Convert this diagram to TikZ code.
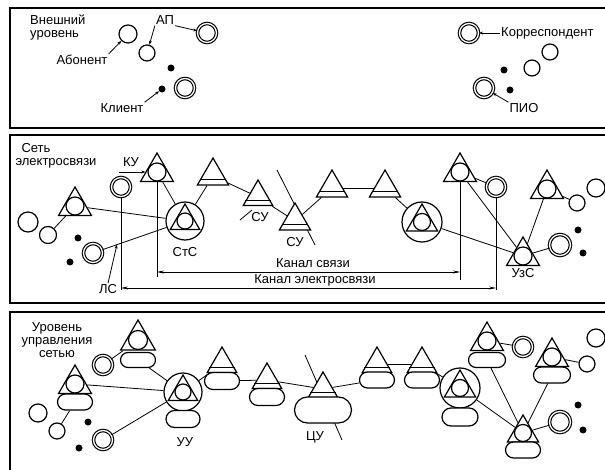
\documentclass[tikz,border=0pt]{standalone}
\usepackage{fontspec}
\setmainfont{Liberation Sans}
\usetikzlibrary{calc,shapes.geometric,shapes.misc,arrows.meta}

% line across a triangle just above its base
\newcommand{\band}[1]{%
  \draw[line width=1.2pt] ($(#1.corner 1)!0.8!(#1.corner 2)$) -- ($(#1.corner 1)!0.8!(#1.corner 3)$);}

\begin{document}
\begin{tikzpicture}[x=1pt,y=-1pt,
  tri/.style={regular polygon,regular polygon sides=3,draw,fill=white,inner sep=0pt,line width=1.2pt},
  hole/.style={circle,draw,fill=white,inner sep=0pt,line width=1.2pt},
  big/.style={circle,draw,fill=white,inner sep=0pt,line width=1.2pt},
  ring/.style={circle,draw,double,double distance=1.3pt,line width=1.15pt,fill=white,inner sep=0pt,minimum size=19pt},
  dot/.style={circle,fill,inner sep=0pt,minimum size=7pt},
  pad/.style={rounded rectangle,draw,fill=white,inner sep=0pt,line width=1.2pt,minimum width=35pt,minimum height=16pt},
  lab/.style={font=\fontsize{13}{13}\selectfont,inner sep=1pt},
  link/.style={line width=0.8pt},
  lbl/.style={line width=0.8pt,-{Stealth[length=4pt,width=3pt]}},
  chan/.style={line width=0.6pt,{Stealth[length=7pt,width=3pt]}-{Stealth[length=7pt,width=3pt]}},
  frame/.style={line width=1.4pt}]

  \useasboundingbox (0,0) rectangle (605,470);

  % frames
  \draw[frame] (606,8) -- (10,8) -- (10,128) -- (606,128);
  \draw[frame] (606,135) -- (10,135) -- (10,303) -- (606,303);
  \draw[frame] (606,312) -- (10,312) -- (10,471);

  % top: external level
  \node[lab,anchor=west,align=left] (lVn) at (29,28) {Внешний\\уровень};
  \node[hole,minimum size=18pt] (ab1) at (128,34) {};
  \node[hole,minimum size=16pt] (ap1) at (147,53) {};
  \node[ring] (apd) at (207,33) {};
  \node[dot] (kd1) at (171,68) {};
  \node[dot] (kd2) at (162,89) {};
  \node[ring] (kl) at (185,88) {};
  \node[ring] (kor) at (469,33) {};
  \node[hole,minimum size=16pt] (kc1) at (550,52) {};
  \node[hole,minimum size=16pt] (kc2) at (532,68) {};
  \node[dot] (pd1) at (504,70) {};
  \node[dot] (pd2) at (510,90) {};
  \node[ring] (pio) at (484,88) {};

  \node[lab] (lAb) at (82,60) {Абонент};
  \node[lab] (lAP) at (165,20) {АП};
  \node[lab] (lKl) at (122,108) {Клиент};
  \node[lab,anchor=west] (lKor) at (500,33) {Корреспондент};
  \node[lab] (lPIO) at (524,108) {ПИО};

  \draw[lbl] (lAb.north east) -- (ab1);
  \draw[lbl] (lAP.south west) -- (ap1);
  \draw[lbl] (lAP.south east) -- (apd);
  \draw[lbl] (lKl.north east) -- (kd2);
  \draw[lbl] (lKor.west) -- (kor);
  \draw[lbl] (lPIO.north west) -- (pio);

  % middle: telecom network
  \node[lab] (lSet) at (36,148) {Сеть};
  \node[lab] (lEl) at (56,163) {электросвязи};

  \draw[link] (277,170) -- (315,245);
  \draw[link] (240,220) -- (252,210);

  \node[tri,minimum size=38pt] (kuT) at (157,172) {};
  \node[hole,minimum size=18pt] (kuC) at (kuT) {};
  \node[ring] (dcKU) at (121,187) {};
  \node[tri,minimum size=38pt] (lt) at (75,206) {};
  \node[hole,minimum size=18pt] (ltC) at (lt) {};
  \node[hole,minimum size=20pt] (c1) at (28,222) {};
  \node[hole,minimum size=17pt] (c2) at (48,235) {};
  \node[dot] (md1) at (78,238) {};
  \node[dot] (md2) at (70,262) {};
  \node[ring] (dcL) at (93,253) {};
  \node[big,minimum size=38pt] (stc) at (185,221) {};
  \node[tri,minimum size=34pt] (stcT) at (stc) {};
  \node[hole,minimum size=16pt] (stcC) at (stc) {};

  \node[tri,minimum size=36pt] (s1) at (213,176) {};
  \node[tri,minimum size=34pt] (s2) at (258,197) {};
  \node[tri,minimum size=36pt] (s3) at (295,221) {};
  \node[tri,minimum size=36pt] (s4) at (332,188) {};
  \node[tri,minimum size=36pt] (s5) at (385,188) {};

  \node[big,minimum size=40pt] (stc2) at (422,222) {};
  \node[tri,minimum size=36pt] (stc2T) at (stc2) {};
  \node[hole,minimum size=17pt] (stc2C) at (stc2) {};
  \node[tri,minimum size=38pt] (rt1) at (460,172) {};
  \node[hole,minimum size=18pt] (rt1C) at (rt1) {};
  \node[ring] (dcR) at (496,187) {};
  \node[tri,minimum size=38pt] (rt2) at (547,189) {};
  \node[hole,minimum size=18pt] (rt2C) at (rt2) {};
  \node[hole,minimum size=16pt] (cR1) at (577,203) {};
  \node[hole,minimum size=18pt] (cR2) at (596,188) {};
  \node[tri,minimum size=38pt] (uzs) at (523,256) {};
  \node[hole,minimum size=18pt] (uzsC) at (uzs) {};
  \node[ring,minimum size=21pt] (dcR2) at (560,245) {};
  \node[dot] (mr1) at (578,230) {};
  \node[dot] (mr2) at (583,253) {};

  \band{s1} \band{s2} \band{s3} \band{s4} \band{s5}

  \node[lab] (lKU) at (131,162) {КУ};
  \node[lab] (lStc) at (185,252) {СтС};
  \node[lab] (lLS) at (108,289) {ЛС};
  \node[lab] (lSU1) at (260,217) {СУ};
  \node[lab] (lSU2) at (295,242) {СУ};
  \node[lab] (lUzs) at (523,273) {УзС};

  \draw[link] (lt) -- (stc);
  \draw[link] (dcL) -- (stc);
  \draw[link] (kuT) -- (stc);
  \draw[link] (lt) -- (c2);
  \draw[link] (stc) -- (s1);
  \draw[link] (s1) -- (s2);
  \draw[link] (s2) -- (s3);
  \draw[link] (s3) -- (s4);
  \draw[link] (s4) -- (s5);
  \draw[link] (s5) -- (stc2);
  \draw[link] (stc2) -- (uzs);
  \draw[link] (rt1) -- (uzs);
  \draw[link] (rt2) -- (uzs);
  \draw[link] (rt1) -- (dcR);
  \draw[link] (rt2) -- (cR1);
  \draw[link] (uzs) -- (dcR2);

  \coordinate (kuA) at (119,172);
  \draw[lbl] (kuA) -- (kuT);
  \coordinate (lsP) at ($(dcL)!0.26!(stc)$);
  \draw[lbl] (lLS.north) -- (lsP);

  % channels
  \draw[link] (kuT.south) -- ++(0,95);
  \draw[link] (rt1.south) -- ++(0,98);
  \draw[link] (dcKU.south) -- ++(0,93);
  \draw[link] (dcR.south) -- ++(0,93);
  \coordinate (ks1) at (kuT.south |- 0,272);
  \coordinate (ks2) at (rt1.south |- 0,272);
  \coordinate (ke1) at (dcKU.south |- 0,288);
  \coordinate (ke2) at (dcR.south |- 0,288);
  \draw[chan] (ks1) -- (ks2);
  \draw[chan] (ke1) -- (ke2);
  \node[lab] (lKs) at (313,263) {Канал связи};
  \node[lab] (lKe) at (315,280) {Канал электросвязи};

  % bottom: network management level
  \node[lab,align=center] (lUpr) at (57,340) {Уровень\\управления\\сетью};

  \draw[link] (305,355) -- (342,440);

  \node[tri,minimum size=40pt] (bA) at (138,340) {};
  \node[hole,minimum size=19pt] (bAc) at (bA) {};
  \node[pad,minimum height=15pt] (bAp) at (138,360) {};
  \node[ring] (dcB1) at (103,365) {};
  \node[tri,minimum size=38pt] (bB) at (75,384) {};
  \node[hole,minimum size=18pt] (bBc) at (bB) {};
  \node[pad] (bBp) at (75,402) {};
  \node[hole,minimum size=18pt] (cB1) at (38,413) {};
  \node[hole,minimum size=16pt] (cB2) at (57,431) {};
  \node[dot] (bd1) at (88,422) {};
  \node[dot] (bd2) at (79,448) {};
  \node[ring] (dcB2) at (103,440) {};
  \node[big,minimum size=38pt] (uu) at (183,392) {};
  \node[tri,minimum size=34pt] (uuT) at (uu) {};
  \node[hole,minimum size=16pt] (uuC) at (uu) {};
  \node[pad,minimum width=34pt,minimum height=17pt] (uuP) at (183,419) {};

  \node[tri,minimum size=34pt] (b1) at (222,364) {};
  \node[pad,minimum height=17pt] (b1p) at (222,381) {};
  \node[tri,minimum size=34pt] (b2) at (267,380) {};
  \node[pad,minimum height=17pt] (b2p) at (267,397) {};
  \node[tri,minimum size=34pt] (cu) at (323,389) {};
  \node[pad,minimum width=57pt,minimum height=26pt] (cup) at (323,410) {};
  \node[tri,minimum size=34pt] (b4) at (377,364) {};
  \node[pad] (b4p) at (377,380) {};
  \node[tri,minimum size=34pt] (b5) at (422,364) {};
  \node[pad] (b5p) at (422,380) {};

  \node[big,minimum size=40pt] (uu2) at (460,388) {};
  \node[tri,minimum size=36pt] (uu2T) at (uu2) {};
  \node[hole,minimum size=17pt] (uu2C) at (uu2) {};
  \node[pad,minimum width=36pt,minimum height=18pt] (uu2P) at (460,417) {};
  \node[tri,minimum size=38pt] (bC) at (487,341) {};
  \node[hole,minimum size=18pt] (bCc) at (bC) {};
  \node[pad,minimum width=37pt,minimum height=15pt] (bCp) at (487,360) {};
  \node[ring] (dcB3) at (523,347) {};
  \node[tri,minimum size=38pt] (bD) at (552,357) {};
  \node[hole,minimum size=18pt] (bDc) at (bD) {};
  \node[pad,minimum width=37pt] (bDp) at (552,375) {};
  \node[hole,minimum size=16pt] (cB3) at (587,364) {};
  \node[hole,minimum size=18pt] (cB4) at (596,338) {};
  \node[tri,minimum size=36pt] (bE) at (523,433) {};
  \node[hole,minimum size=17pt] (bEc) at (bE) {};
  \node[pad] (bEp) at (523,450) {};
  \node[ring,minimum size=21pt] (dcB4) at (560,422) {};
  \node[dot] (bd3) at (578,405) {};
  \node[dot] (bd4) at (583,430) {};

  \band{b1} \band{b2} \band{cu} \band{b4} \band{b5}

  \node[lab] (lUU) at (185,442) {УУ};
  \node[lab] (lCU) at (315,437) {ЦУ};

  \draw[link] (bA) -- (dcB1);
  \draw[link] (bAp) -- (uu);
  \draw[link] (bB) -- (uu);
  \draw[link] (uu) -- (dcB2);
  \draw[link] (bBp) -- (cB2);
  \draw[link] (uu) -- (b1);
  \draw[link] (b1p) -- (b2);
  \draw[link] (b2) -- (cu);
  \draw[link] (cu) -- (b4p);
  \draw[link] (b4) -- (b5);
  \draw[link] (b5) -- (uu2);
  \draw[link] (uu2) -- (bE);
  \draw[link] (bCp) -- (bE);
  \draw[link] (bDp) -- (bE);
  \draw[link] (bC) -- (dcB3);
  \draw[link] (bD) -- (cB3);
  \draw[link] (bE) -- (dcB4);

\end{tikzpicture}
\end{document}
